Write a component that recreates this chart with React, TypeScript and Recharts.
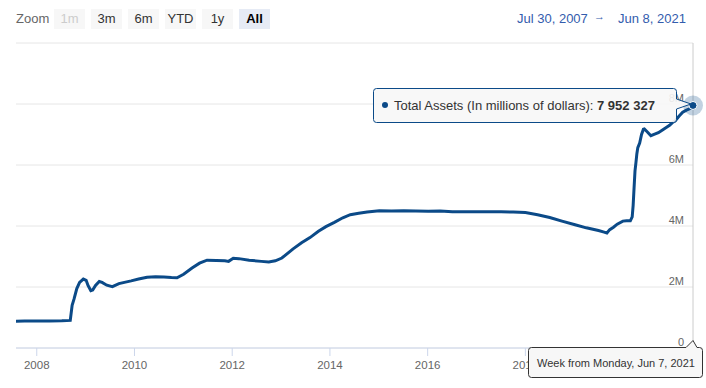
import { LineChart, Line, XAxis, YAxis, CartesianGrid, ReferenceLine, ReferenceDot } from "recharts";

// weekly Fed balance sheet (millions of dollars)
const weeks = [
  "2007-07-30", "2007-10-01", "2008-01-07", "2008-04-07", "2008-07-07", "2008-09-08",
  "2008-09-22", "2008-10-06", "2008-10-27", "2008-11-17", "2008-12-15", "2009-01-05",
  "2009-01-19", "2009-02-09", "2009-02-23", "2009-03-16", "2009-04-13", "2009-05-04",
  "2009-06-08", "2009-07-20", "2009-09-07", "2009-10-26", "2009-12-07", "2010-02-01",
  "2010-04-05", "2010-06-07", "2010-08-09", "2010-10-04", "2010-11-15", "2011-01-03",
  "2011-03-07", "2011-05-02", "2011-06-27", "2011-09-05", "2011-11-07", "2011-12-05",
  "2012-01-09", "2012-02-20", "2012-05-07", "2012-08-06", "2012-10-01", "2012-11-19",
  "2013-01-07", "2013-04-01", "2013-06-03", "2013-08-05", "2013-10-07", "2013-12-02",
  "2014-02-03", "2014-04-07", "2014-06-02", "2014-08-04", "2014-10-06", "2015-01-05",
  "2015-04-06", "2015-07-06", "2015-10-05", "2016-01-04", "2016-04-04", "2016-07-04",
  "2016-10-03", "2017-01-02", "2017-04-03", "2017-07-03", "2017-10-02", "2018-01-01",
  "2018-04-02", "2018-07-02", "2018-10-01", "2019-01-07", "2019-04-01", "2019-07-01",
  "2019-08-12", "2019-09-02", "2019-09-23", "2019-10-21", "2019-11-18", "2019-12-30",
  "2020-01-27", "2020-02-24", "2020-03-09", "2020-03-16", "2020-03-23", "2020-03-30",
  "2020-04-06", "2020-04-13", "2020-04-20", "2020-05-04", "2020-05-18", "2020-06-01",
  "2020-06-08", "2020-06-29", "2020-07-27", "2020-08-24", "2020-09-21", "2020-10-19",
  "2020-11-16", "2020-12-14", "2021-01-04", "2021-01-25", "2021-02-22", "2021-03-22",
  "2021-04-19", "2021-05-17", "2021-06-07",
];

const totalAssets = [
  880000, 882000, 888000, 884000, 890000, 905000,
  1400000, 1600000, 1950000, 2150000, 2260000, 2220000,
  2050000, 1880000, 1900000, 2050000, 2180000, 2150000,
  2060000, 2010000, 2110000, 2160000, 2200000, 2260000,
  2320000, 2340000, 2330000, 2310000, 2300000, 2420000,
  2620000, 2780000, 2880000, 2870000, 2860000, 2840000,
  2940000, 2930000, 2880000, 2840000, 2820000, 2860000,
  2950000, 3250000, 3450000, 3620000, 3830000, 3980000,
  4120000, 4270000, 4370000, 4420000, 4460000, 4500000,
  4490000, 4500000, 4490000, 4485000, 4490000, 4470000,
  4470000, 4465000, 4470000, 4465000, 4460000, 4440000,
  4370000, 4280000, 4160000, 4040000, 3940000, 3850000,
  3800000, 3770000, 3880000, 3960000, 4060000, 4160000,
  4170000, 4170000, 4300000, 4670000, 5250000, 5810000,
  6080000, 6370000, 6570000, 6720000, 7000000, 7170000,
  7180000, 7090000, 6960000, 7010000, 7060000, 7140000,
  7220000, 7300000, 7390000, 7450000, 7600000, 7730000,
  7800000, 7850000, 7952327,
];

const yearTicks = [2008, 2010, 2012, 2014, 2016, 2018, 2020];
const valueTicks = [0, 2000000, 4000000, 6000000, 8000000, 10000000];
const zoomButtons = ["1m", "3m", "6m", "YTD", "1y", "All"];

const FONT = '"Liberation Sans", Arial, sans-serif';
const BLUE = "#0b4a88";

function toYear(s: string) {
  const d = new Date(s + "T00:00:00Z");
  const y = d.getUTCFullYear();
  const start = Date.UTC(y, 0, 1);
  const end = Date.UTC(y + 1, 0, 1);
  return y + (d.getTime() - start) / (end - start);
}

const data = weeks.map((w, i) => ({ t: toYear(w), v: totalAssets[i] }));
const last = data[data.length - 1];

function YTick(props: any) {
  const { x, y, payload } = props;
  if (payload.value >= 10000000) return null;
  const label = payload.value === 0 ? "0" : payload.value / 1000000 + "M";
  return (
    <text x={x - 1} y={y - 2} textAnchor="end" fill="#666" fontSize={11} fontFamily={FONT}>
      {label}
    </text>
  );
}

function XTick(props: any) {
  const { x, y, payload } = props;
  return (
    <text x={x} y={y + 11} textAnchor="middle" fill="#666" fontSize={11.5} fontFamily={FONT}>
      {payload.value}
    </text>
  );
}

function App() {
  return (
    <div style={{ position: "absolute", left: 0, top: 0, width: 706, height: 388, fontFamily: FONT, background: "#fff" }}>
      {/* range selector */}
      <div style={{ position: "absolute", left: 16, top: 11, fontSize: 13, color: "#666" }}>Zoom</div>
      {zoomButtons.map((b, i) => (
        <div
          key={b}
          style={{
            position: "absolute",
            left: 54 + i * 37,
            top: 9,
            width: 31,
            height: 20,
            lineHeight: "20px",
            textAlign: "center",
            fontSize: 13,
            background: b === "All" ? "#e6ebf5" : "#f7f7f7",
            color: b === "1m" ? "#cccccc" : b === "All" ? "#000" : "#333",
            fontWeight: b === "All" ? "bold" : "normal",
          }}
        >
          {b}
        </div>
      ))}
      <div style={{ position: "absolute", left: 517, top: 11, fontSize: 13, color: "#335cad", whiteSpace: "nowrap" }}>
        Jul 30, 2007
      </div>
      <div style={{ position: "absolute", left: 594, top: 10, fontSize: 11, color: "#335cad" }}>→</div>
      <div style={{ position: "absolute", left: 618, top: 11, fontSize: 13, color: "#335cad", whiteSpace: "nowrap" }}>
        Jun 8, 2021
      </div>

      <div style={{ position: "absolute", left: 0, top: 0 }}>
        <LineChart width={706} height={388} data={data} margin={{ top: 43, right: 13, bottom: 0, left: 16 }}>
          <CartesianGrid horizontal vertical={false} stroke="#e6e6e6" />
          <XAxis
            dataKey="t"
            type="number"
            domain={[data[0].t, last.t]}
            ticks={yearTicks}
            height={40}
            stroke="#ccd6eb"
            tickSize={8}
            tick={<XTick />}
            allowDataOverflow
          />
          <YAxis
            type="number"
            orientation="right"
            mirror
            domain={[0, 10000000]}
            ticks={valueTicks}
            axisLine={false}
            tickLine={false}
            tick={<YTick />}
          />
          <ReferenceLine x={last.t} stroke="#cccccc" strokeWidth={1} />
          <Line type="linear" dataKey="v" stroke={BLUE} strokeWidth={3} dot={false} isAnimationActive={false} />
          <ReferenceDot x={last.t} y={last.v} r={10} fill={BLUE} fillOpacity={0.25} stroke="none" />
          <ReferenceDot x={last.t} y={last.v} r={4} fill={BLUE} stroke="#fff" strokeWidth={1} />
        </LineChart>
      </div>

      {/* tooltips */}
      <svg width={706} height={388} style={{ position: "absolute", left: 0, top: 0, pointerEvents: "none" }}>
        <path
          d="M376.5 88.5 L673.5 88.5 Q676.5 88.5 676.5 91.5 L676.5 99 L691 104 L676.5 109 L676.5 119.5 Q676.5 122.5 673.5 122.5 L376.5 122.5 Q373.5 122.5 373.5 119.5 L373.5 91.5 Q373.5 88.5 376.5 88.5 Z"
          fill="rgba(247,247,247,0.9)"
          stroke={BLUE}
          strokeWidth={1}
        />
        <circle cx={385} cy={105} r={3} fill={BLUE} />
        <text x={394} y={109.5} fontSize={13} fontFamily={FONT} fill="#333">
          <tspan>Total Assets (In millions of dollars): </tspan>
          <tspan fontWeight="bold">7 952 327</tspan>
        </text>
        <path
          d="M531.5 347.5 L686 347.5 L693 340.5 L697 347.5 L699.5 347.5 Q702.5 347.5 702.5 350.5 L702.5 374.5 Q702.5 377.5 699.5 377.5 L531.5 377.5 Q528.5 377.5 528.5 374.5 L528.5 350.5 Q528.5 347.5 531.5 347.5 Z"
          fill="#f7f7f7"
          stroke="#333"
          strokeWidth={1}
        />
        <text x={537} y={367} fontSize={11} fontFamily={FONT} fill="#333">
          Week from Monday, Jun 7, 2021
        </text>
      </svg>
    </div>
  );
}

export default App;
